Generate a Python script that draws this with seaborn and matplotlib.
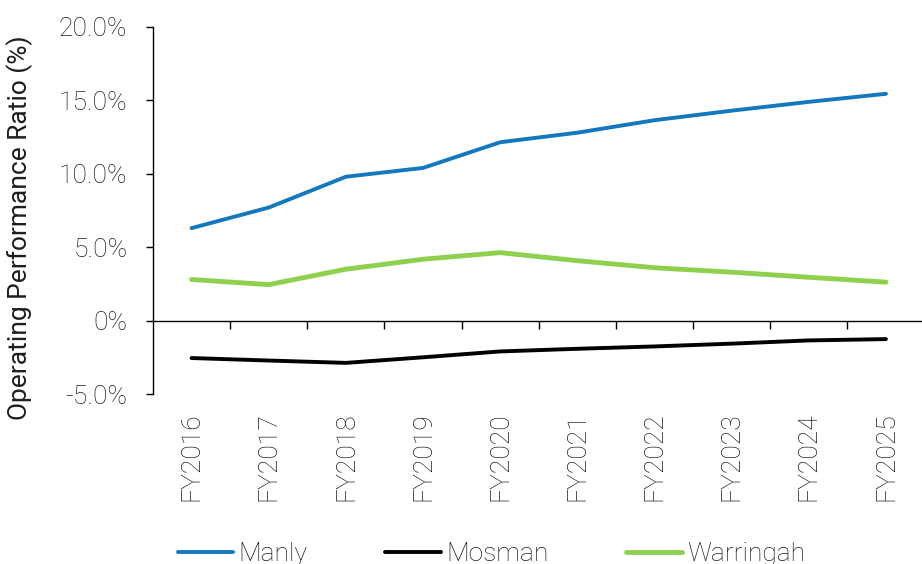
import matplotlib
matplotlib.use("Agg")
import matplotlib.pyplot as plt
import matplotlib.ticker as mticker
import pandas as pd
import seaborn as sns

years = ["FY2016", "FY2017", "FY2018", "FY2019", "FY2020",
         "FY2021", "FY2022", "FY2023", "FY2024", "FY2025"]
manly = [6.3, 7.7, 9.8, 10.4, 12.15, 12.8, 13.65, 14.3, 14.9, 15.45]
mosman = [-2.55, -2.72, -2.88, -2.5, -2.1, -1.92, -1.76, -1.57, -1.35, -1.26]
warringah = [2.8, 2.45, 3.5, 4.18, 4.63, 4.08, 3.6, 3.3, 2.95, 2.62]

councils = ["Manly", "Mosman", "Warringah"]
colours = {"Manly": "#1378BE", "Mosman": "#000000", "Warringah": "#8DD14E"}
widths = {"Manly": 2.8, "Mosman": 2.8, "Warringah": 3.5}

y_ticks = [-5, 0, 5, 10, 15, 20]
y_tick_labels = ["-5.0%", "0%", "5.0%", "10.0%", "15.0%", "20.0%"]

df = pd.DataFrame({
    "year": years * 3,
    "council": [c for c in councils for _ in years],
    "ratio": manly + mosman + warringah,
})
df["pos"] = df["year"].map({y: i for i, y in enumerate(years)})

sns.set_style("white")
plt.rcParams["font.family"] = ["Roboto", "DejaVu Sans"]
plt.rcParams["font.weight"] = "light"
text_col = "#1e1e1e"
fs = 19

fig = plt.figure(figsize=(9.22, 5.64), dpi=100)
ax = fig.add_axes([153 / 922, 170 / 564, 771.5 / 922, 367 / 564])

sns.lineplot(data=df, x="pos", y="ratio", hue="council", hue_order=councils,
             palette=colours, ax=ax, legend=False, sort=False)
for line, c in zip(ax.get_lines(), councils):
    line.set_linewidth(widths[c])
    line.set_solid_capstyle("round")

ymin, ymax = -5, 20
ax.set_xlim(-0.5, len(years) - 0.5)
ax.set_ylim(ymin, ymax)

# y axis
ax.set_yticks(y_ticks)
ax.yaxis.set_major_formatter(mticker.FixedFormatter(y_tick_labels))
ax.tick_params(axis="y", direction="out", length=5.4, width=1, color="black",
               labelsize=fs, labelcolor=text_col, pad=13, left=True)
ax.set_ylabel("Operating Performance Ratio (%)", fontsize=fs, color=text_col)
ax.yaxis.set_label_coords(-0.156, 0.454)

# x labels at the bottom, without a spine
ax.set_xticks(range(len(years)))
ax.set_xticklabels(years, rotation=90, fontsize=fs, color=text_col)
ax.tick_params(axis="x", length=0, pad=13)
ax.set_xlabel("")

for side in ["top", "right", "bottom"]:
    ax.spines[side].set_visible(False)
ax.spines["left"].set_color("black")
ax.spines["left"].set_linewidth(1)

# zero line with category boundary ticks
zero = ax.secondary_xaxis((0 - ymin) / (ymax - ymin))
zero.set_xticks([i + 0.5 for i in range(len(years))])
zero.tick_params(axis="x", direction="out", length=6, width=1, color="black",
                 labelbottom=False, labeltop=False)
zero.spines["bottom"].set_color("black")
zero.spines["bottom"].set_linewidth(1)
zero.set_xticklabels([])

handles = [plt.Line2D([], [], color=colours[c], lw=widths[c]) for c in councils]
fig.legend(handles, councils, loc="center", bbox_to_anchor=(0.533, 0.018),
           ncol=3, frameon=False, fontsize=fs, handlelength=2.1, handletextpad=0.2,
           columnspacing=2.95, labelcolor=text_col, borderpad=0)

fig.savefig("out.png", dpi=100)
